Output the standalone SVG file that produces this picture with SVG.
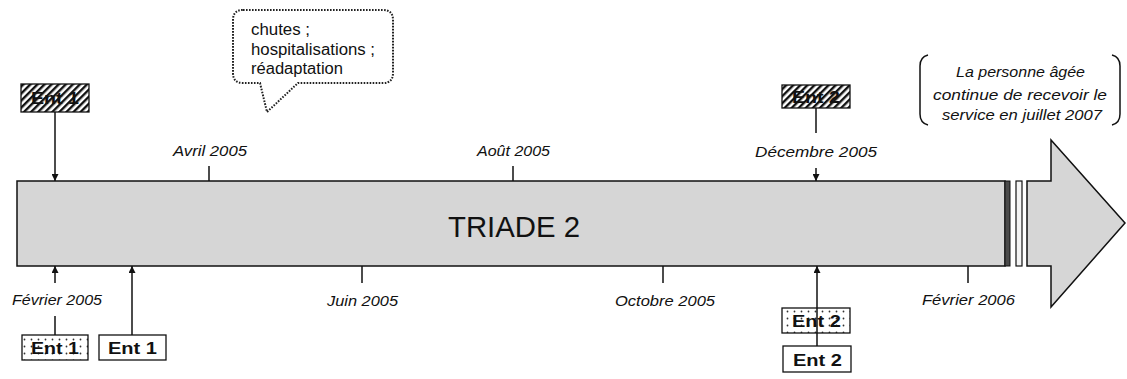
<svg xmlns="http://www.w3.org/2000/svg" width="1127" height="379" viewBox="0 0 1127 379">
<style>
  text { font-family: "Liberation Sans", Arial, sans-serif; fill: #111; }
  .date { font-size: 14px; font-style: italic; }
  .quote { font-size: 14px; font-style: italic; }
  .bub { font-size: 16px; }
  .ent { font-size: 16px; font-weight: bold; }
  .title { font-size: 29px; }
  .ln { stroke: #111; stroke-width: 1.5; fill: none; }
  .box { stroke: #111; stroke-width: 1.3; }
</style>
<defs>
  <marker id="ah" viewBox="0 0 10 10" refX="10" refY="5" markerWidth="7" markerHeight="7" markerUnits="userSpaceOnUse" orient="auto">
    <path d="M0,0 L10,5 L0,10 z" fill="#111"/>
  </marker>
  <pattern id="hatch" patternUnits="userSpaceOnUse" width="5" height="5" patternTransform="rotate(45)">
    <rect width="5" height="5" fill="#fff"/>
    <rect width="2.4" height="5" fill="#111"/>
  </pattern>
  <pattern id="dots" patternUnits="userSpaceOnUse" width="7" height="7">
    <rect width="7" height="7" fill="#fff"/>
    <circle cx="3.5" cy="3.5" r="0.9" fill="#333"/>
  </pattern>
</defs>

<g id="timeline-bar">
  <rect x="17" y="181" width="988" height="85" fill="#d6d6d6" stroke="#111" stroke-width="1.5"/>
  <rect x="1005" y="181" width="5" height="85" fill="#4a4a4a" stroke="#111" stroke-width="1"/>
  <rect x="1016" y="181" width="6" height="85" fill="#f4f4f4" stroke="#111" stroke-width="1.2"/>
  <polygon points="1027,181 1051,181 1051,140 1125,223 1051,307 1051,266 1027,266" fill="#d6d6d6" stroke="#111" stroke-width="1.5"/>
  <text class="title" x="448" y="237" textLength="132" lengthAdjust="spacingAndGlyphs">TRIADE 2</text>
</g>

<g id="bubble">
  <path d="M243,10 H383 Q393,10 393,20 V73 Q393,83 383,83 H298 L267,112 L260,83 H243 Q233,83 233,73 V20 Q233,10 243,10 Z" fill="#fff" stroke="#222" stroke-width="2" stroke-dasharray="1.6 1.4"/>
  <text class="bub" x="251" y="35" textLength="59" lengthAdjust="spacingAndGlyphs">chutes ;</text>
  <text class="bub" x="251" y="55" textLength="124" lengthAdjust="spacingAndGlyphs">hospitalisations ;</text>
  <text class="bub" x="251" y="74" textLength="92" lengthAdjust="spacingAndGlyphs">réadaptation</text>
</g>

<g id="quote">
  <path d="M928,55 Q920,57 920,66 V114 Q920,123 928,125" class="ln"/>
  <path d="M1112,55 Q1120,57 1120,66 V114 Q1120,123 1112,125" class="ln"/>
  <text class="quote" x="956" y="77" textLength="129" lengthAdjust="spacingAndGlyphs">La personne âgée</text>
  <text class="quote" x="933" y="100" textLength="174" lengthAdjust="spacingAndGlyphs">continue de recevoir le</text>
  <text class="quote" x="942" y="120" textLength="160" lengthAdjust="spacingAndGlyphs">service en juillet 2007</text>
</g>

<g id="ent1-hatched">
  <rect class="box" x="21" y="84" width="68" height="28" fill="url(#hatch)"/>
  <text class="ent" x="31" y="104" textLength="48" lengthAdjust="spacingAndGlyphs">Ent 1</text>
</g>
<g id="ent2-hatched">
  <rect class="box" x="782" y="85" width="68" height="23" fill="url(#hatch)"/>
  <text class="ent" x="792" y="103" textLength="48" lengthAdjust="spacingAndGlyphs">Ent 2</text>
</g>
<g id="ent1-dotted">
  <rect class="box" x="22" y="335" width="66" height="25" fill="url(#dots)"/>
  <text class="ent" x="31" y="354" textLength="48" lengthAdjust="spacingAndGlyphs">Ent 1</text>
</g>
<g id="ent1-plain">
  <rect class="box" x="99" y="335" width="67" height="25" fill="#fff"/>
  <text class="ent" x="108" y="354" textLength="49" lengthAdjust="spacingAndGlyphs">Ent 1</text>
</g>
<g id="ent2-dotted">
  <rect class="box" x="782" y="308" width="68" height="25" fill="url(#dots)"/>
  <text class="ent" x="792" y="327" textLength="49" lengthAdjust="spacingAndGlyphs">Ent 2</text>
</g>
<g id="ent2-plain">
  <rect class="box" x="783" y="346" width="68" height="26" fill="#fff"/>
  <text class="ent" x="793" y="366" textLength="49" lengthAdjust="spacingAndGlyphs">Ent 2</text>
</g>

<g id="date-labels">
  <text class="date" x="173" y="156" textLength="74" lengthAdjust="spacingAndGlyphs">Avril 2005</text>
  <text class="date" x="477" y="156" textLength="73" lengthAdjust="spacingAndGlyphs">Août 2005</text>
  <text class="date" x="755" y="157" textLength="122" lengthAdjust="spacingAndGlyphs">Décembre 2005</text>
  <text class="date" x="12" y="305" textLength="90" lengthAdjust="spacingAndGlyphs">Février 2005</text>
  <text class="date" x="327" y="306" textLength="71" lengthAdjust="spacingAndGlyphs">Juin 2005</text>
  <text class="date" x="615" y="306" textLength="100" lengthAdjust="spacingAndGlyphs">Octobre 2005</text>
  <text class="date" x="922" y="305" textLength="93" lengthAdjust="spacingAndGlyphs">Février 2006</text>
</g>

<g id="connectors">
  <line class="ln" x1="55" y1="112" x2="55" y2="181" marker-end="url(#ah)"/>
  <line class="ln" x1="816" y1="108" x2="816" y2="133"/>
  <line class="ln" x1="816" y1="168" x2="816" y2="181" marker-end="url(#ah)"/>
  <line class="ln" x1="55" y1="283" x2="55" y2="266" marker-end="url(#ah)"/>
  <line class="ln" x1="55" y1="316" x2="55" y2="335"/>
  <line class="ln" x1="132" y1="335" x2="132" y2="266" marker-end="url(#ah)"/>
  <line class="ln" x1="817" y1="346" x2="817" y2="266" marker-end="url(#ah)"/>
  <line class="ln" x1="209" y1="166" x2="209" y2="181"/>
  <line class="ln" x1="513" y1="166" x2="513" y2="181"/>
  <line class="ln" x1="362" y1="266" x2="362" y2="283"/>
  <line class="ln" x1="663" y1="266" x2="663" y2="283"/>
  <line class="ln" x1="968" y1="266" x2="968" y2="283"/>
</g>
</svg>
